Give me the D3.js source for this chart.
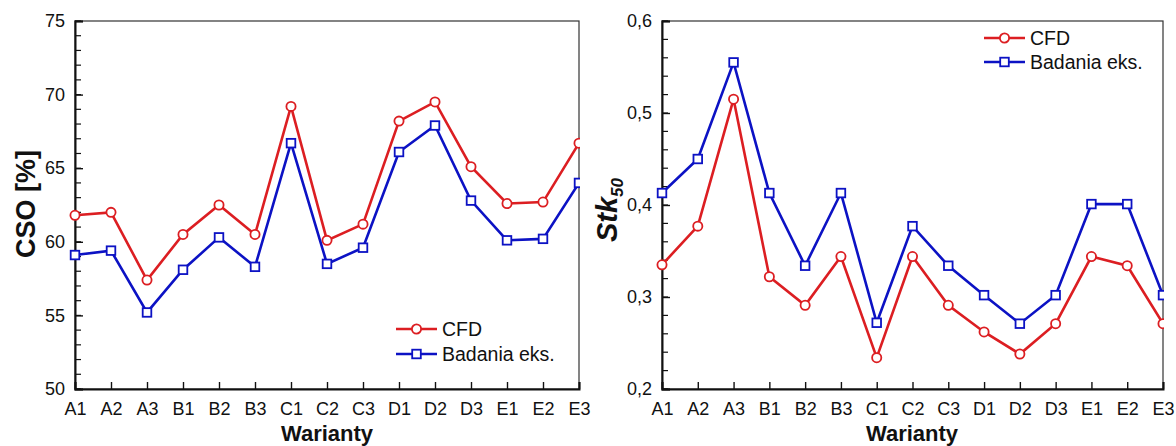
<!DOCTYPE html>
<html>
<head>
<meta charset="utf-8">
<script src="https://cdn.jsdelivr.net/npm/d3@7"></script>
<style>
  body { margin: 0; background: #fff; }
  svg text { font-family: Arial, "Liberation Sans", sans-serif; fill: #111; }
</style>
</head>
<body>
<div id="chart"></div>
<script>
// categories on the x axis
const variants = ["A1","A2","A3","B1","B2","B3","C1","C2","C3","D1","D2","D3","E1","E2","E3"];

// CSO [%]
const csoCFD = [61.8, 62.0, 57.4, 60.5, 62.5, 60.5, 69.2, 60.1, 61.2, 68.2, 69.5, 65.1, 62.6, 62.7, 66.7];
const csoExp = [59.1, 59.4, 55.2, 58.1, 60.3, 58.3, 66.7, 58.5, 59.6, 66.1, 67.9, 62.8, 60.1, 60.2, 64.0];

// Stk50
const stkCFD = [0.335, 0.377, 0.515, 0.322, 0.291, 0.344, 0.234, 0.344, 0.291, 0.262, 0.238, 0.271, 0.344, 0.334, 0.271];
const stkExp = [0.413, 0.450, 0.555, 0.413, 0.334, 0.413, 0.272, 0.377, 0.334, 0.302, 0.271, 0.302, 0.401, 0.401, 0.302];

const csoTicks = [50, 55, 60, 65, 70, 75];
const stkTicks = [0.2, 0.3, 0.4, 0.5, 0.6];
const seriesNames = ["CFD", "Badania eks."];

const RED = "#dc1e22", BLUE = "#0c12c4";

const svg = d3.select("#chart").append("svg")
  .attr("width", 1176).attr("height", 446);

function drawPanel(opt) {
  const x = d3.scalePoint().domain(variants).range([opt.x0, opt.x1]);
  const y = d3.scaleLinear().domain(opt.domain).range([389, 21]);
  const g = svg.append("g");

  // frame (top / right)
  g.append("rect")
    .attr("x", opt.x0).attr("y", 21)
    .attr("width", opt.x1 - opt.x0).attr("height", 389 - 21)
    .attr("fill", "none").attr("stroke", "#333").attr("stroke-width", 1.2);

  // minor y ticks
  const minor = d3.range(opt.domain[0], opt.domain[1] + 1e-9, opt.minorStep);
  g.selectAll(".minor").data(minor).join("line")
    .attr("x1", opt.x0).attr("x2", opt.x0 + 6)
    .attr("y1", d => y(d)).attr("y2", d => y(d))
    .attr("stroke", "#111").attr("stroke-width", 1.2);

  // y axis
  const yAxis = d3.axisLeft(y).tickValues(opt.ticks).tickSize(-8).tickPadding(10)
    .tickFormat(opt.fmt);
  const ya = g.append("g").attr("transform", `translate(${opt.x0},0)`).call(yAxis);
  ya.select(".domain").attr("stroke", "#111").attr("stroke-width", 2);
  ya.selectAll(".tick line").attr("stroke", "#111").attr("stroke-width", 1.4);
  ya.selectAll(".tick text").style("font-size", "18px").attr("fill", "#111");

  // x axis
  const xAxis = d3.axisBottom(x).tickSize(-7).tickPadding(13);
  const xa = g.append("g").attr("transform", "translate(0,389)").call(xAxis);
  xa.select(".domain").attr("stroke", "#111").attr("stroke-width", 2);
  xa.selectAll(".tick line").attr("stroke", "#111").attr("stroke-width", 1.4);
  xa.selectAll(".tick text").style("font-size", "18px").attr("fill", "#111");

  // axis titles
  g.append("text")
    .attr("x", opt.xTitleX).attr("y", 441)
    .attr("text-anchor", "middle")
    .style("font-size", "22px").style("font-weight", "bold")
    .text("Warianty");
  opt.yTitle(g);

  const line = d3.line().x((d, i) => x(variants[i])).y(d => y(d));
  const clip = `clip-${opt.id}`;
  g.append("clipPath").attr("id", clip).append("rect")
    .attr("x", opt.x0 - 10).attr("y", 10).attr("width", opt.x1 - opt.x0 + 11).attr("height", 390);

  const series = [
    { vals: opt.cfd, color: RED, shape: "circle" },
    { vals: opt.exp, color: BLUE, shape: "square" }
  ];
  series.forEach(s => {
    const sg = g.append("g").attr("clip-path", `url(#${clip})`);
    sg.append("path").datum(s.vals)
      .attr("d", line).attr("fill", "none")
      .attr("stroke", s.color).attr("stroke-width", 2.6);
    if (s.shape === "circle") {
      sg.selectAll("circle").data(s.vals).join("circle")
        .attr("cx", (d, i) => x(variants[i])).attr("cy", d => y(d)).attr("r", 4.6)
        .attr("fill", "#fff").attr("stroke", s.color).attr("stroke-width", 1.8);
    } else {
      sg.selectAll("rect").data(s.vals).join("rect")
        .attr("x", (d, i) => x(variants[i]) - 4.3).attr("y", d => y(d) - 4.3)
        .attr("width", 8.6).attr("height", 8.6)
        .attr("fill", "#fff").attr("stroke", s.color).attr("stroke-width", 1.8);
    }
  });

  // legend
  const lg = g.append("g").attr("transform", `translate(${opt.legend[0]},${opt.legend[1]})`);
  seriesNames.forEach((name, i) => {
    const row = lg.append("g").attr("transform", `translate(0,${i * opt.legendGap})`);
    const c = i === 0 ? RED : BLUE;
    row.append("line").attr("x1", 0).attr("x2", 41).attr("stroke", c).attr("stroke-width", 2.6);
    if (i === 0) {
      row.append("circle").attr("cx", 20.5).attr("r", 4.6)
        .attr("fill", "#fff").attr("stroke", c).attr("stroke-width", 1.8);
    } else {
      row.append("rect").attr("x", 16.2).attr("y", -4.3).attr("width", 8.6).attr("height", 8.6)
        .attr("fill", "#fff").attr("stroke", c).attr("stroke-width", 1.8);
    }
    row.append("text").attr("x", 46).attr("dy", "0.35em")
      .style("font-size", "19.5px").text(name);
  });
}

drawPanel({
  id: "cso", x0: 75, x1: 579, domain: [50, 75], ticks: csoTicks, minorStep: 1,
  fmt: d3.format("d"), cfd: csoCFD, exp: csoExp,
  legend: [396, 329], legendGap: 25, xTitleX: 327,
  yTitle: g => g.append("text")
    .attr("transform", "translate(35,204) rotate(-90)")
    .attr("text-anchor", "middle")
    .style("font-size", "27px").style("font-weight", "bold")
    .text("CSO [%]")
});

drawPanel({
  id: "stk", x0: 662, x1: 1163, domain: [0.2, 0.6], ticks: stkTicks, minorStep: 0.02,
  fmt: d => d3.format(".1f")(d).replace(".", ","), cfd: stkCFD, exp: stkExp,
  legend: [984, 38], legendGap: 24, xTitleX: 912,
  yTitle: g => {
    const t = g.append("text")
      .attr("transform", "translate(617,210) rotate(-90)")
      .attr("text-anchor", "middle")
      .style("font-size", "29px").style("font-weight", "bold").style("font-style", "italic");
    t.append("tspan").text("Stk");
    t.append("tspan").attr("dy", 6).style("font-size", "17px").text("50");
  }
});
</script>
</body>
</html>
